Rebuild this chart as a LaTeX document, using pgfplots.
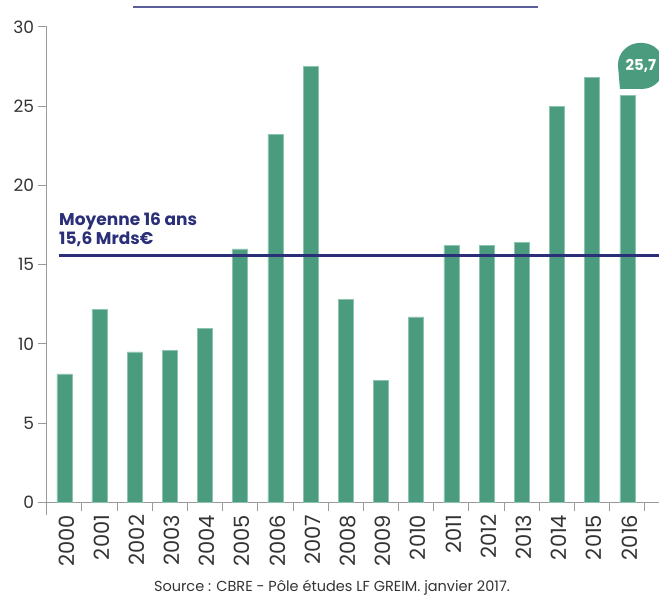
\documentclass[border=0pt]{standalone}
\usepackage{pgfplots}
\pgfplotsset{compat=1.18}
\usepackage{fontspec}
\setmainfont{Poppins}
\definecolor{barg}{HTML}{4B9B7F}
\definecolor{baredge}{HTML}{8CC4B0}
\definecolor{navy}{HTML}{2B2F78}
\definecolor{axgray}{HTML}{9A9A9A}
\definecolor{txt}{HTML}{333333}
\definecolor{topline}{HTML}{5A5E9A}
\begin{document}
\begin{tikzpicture}
\clip (-46.7pt,-93.7pt) rectangle (612.3pt,502.3pt);
\begin{axis}[
  at={(0pt,0pt)}, anchor=south west,
  scale only axis, width=612.3pt, height=475.3pt,
  xmin=-0.5, xmax=16.9, ymin=0, ymax=30,
  axis x line=bottom, axis y line=left,
  axis line style={draw=axgray, line width=1pt, -},
  tick align=outside, major tick length=9pt,
  tick style={draw=axgray, line width=1pt},
  xtick={-0.5,0.5,...,16.5}, xticklabel=\empty,
  extra x ticks={0,1,...,16},
  extra x tick labels={2000,2001,2002,2003,2004,2005,2006,2007,2008,2009,2010,2011,2012,2013,2014,2015,2016},
  extra x tick style={tick style={draw=none},
    tick label style={rotate=90, anchor=east, font=\fontsize{21}{21}\selectfont, text=txt, yshift=-2pt}},
  ytick={0,5,...,30},
  yticklabel style={font=\fontsize{17}{17}\selectfont, text=txt},
  /pgf/number format/assume math mode=true,
  clip=false,
]
\addplot[ybar, bar width=15pt, fill=barg, draw=baredge, line width=0.5pt] coordinates {
 (0,8.1) (1,12.2) (2,9.5) (3,9.6) (4,11.0) (5,16.0) (6,23.2) (7,27.5) (8,12.8)
 (9,7.7) (10,11.7) (11,16.2) (12,16.2) (13,16.4) (14,25.0) (15,26.8) (16,25.7)};
\addplot[navy, line width=3pt] coordinates {(-0.15,15.6) (16.9,15.6)};
\draw[axgray, line width=1pt] (axis cs:-0.5,0) -- ([yshift=-13pt]axis cs:-0.5,0);
\node[anchor=base west, text=navy, inner sep=0pt, font=\fontsize{17}{17}\selectfont\bfseries] at (axis cs:-0.15,17.5) {Moyenne 16 ans};
\node[anchor=base west, text=navy, inner sep=0pt, font=\fontsize{17}{17}\selectfont\bfseries] at (axis cs:-0.15,16.3) {15,6 Mrds€};
\fill[barg] (axis cs:15.79,26.09) -- ++(22pt,0pt) arc[start angle=-90, end angle=0, radius=22pt] -- ++(0pt,2pt) arc[start angle=0, end angle=90, radius=22pt] -- ++(-2pt,0pt) arc[start angle=90, end angle=180, radius=22pt] -- cycle;
\node[text=white, font=\fontsize{15}{15}\selectfont\bfseries, inner sep=0pt] at ([xshift=21pt,yshift=23pt]axis cs:15.79,26.09) {25,7};
\end{axis}
\draw[topline, line width=2pt] (86.3pt,495.6pt) -- (491.3pt,495.6pt);
\node[anchor=north, text=txt, font=\fontsize{14.5}{14.5}\selectfont, inner sep=0pt] at (285.3pt,-77.5pt) {Source : CBRE - Pôle études LF GREIM. janvier 2017.};
\end{tikzpicture}
\end{document}
